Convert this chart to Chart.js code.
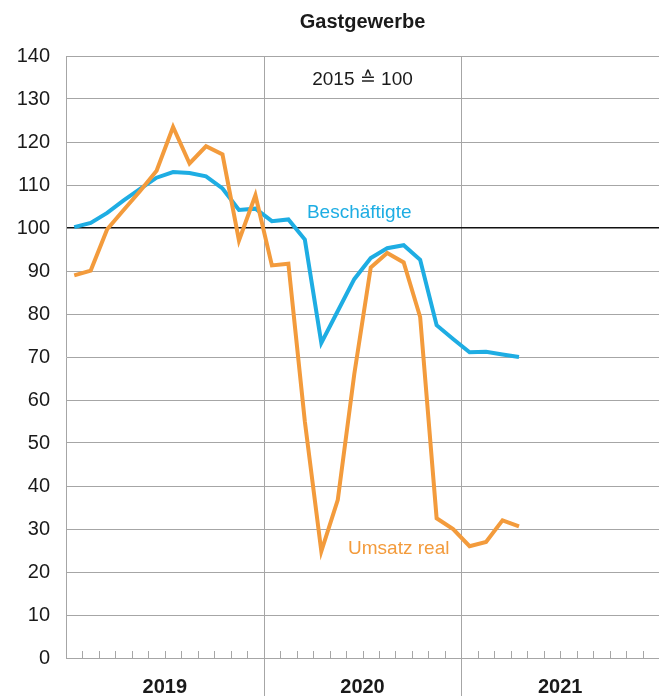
<!DOCTYPE html>
<html>
<head>
<meta charset="utf-8">
<script src="https://cdn.jsdelivr.net/npm/chart.js@4.4.1/dist/chart.umd.min.js"></script>
<style>
  html, body { margin: 0; padding: 0; background: #fff; }
  #wrap { position: relative; width: 668px; height: 696px; }
</style>
</head>
<body>
<div id="wrap"><canvas id="chart"></canvas></div>
<script>
// Gastgewerbe, Jan 2019 - Apr 2021, 2015 = 100
const years = ['2019', '2020', '2021'];
const beschaeftigte = [100.2, 101.2, 103.5, 106.4, 109.1, 111.7, 113.0, 112.8, 112.0, 109.2, 104.2, 104.5,
  101.6, 102.0, 97.3, 73.3, 80.7, 88.1, 93.0, 95.3, 96.0, 92.6, 77.4, 74.2,
  71.1, 71.2, 70.6, 70.0];
const umsatzReal = [89.0, 90.1, 99.7, 104.2, 108.6, 113.3, 123.5, 115.0, 119.0, 117.1, 97.1, 107.6,
  91.3, 91.7, 55.0, 24.8, 36.8, 66.0, 90.8, 94.2, 92.0, 79.3, 32.5, 30.0,
  26.0, 27.0, 32.0, 30.6];
const yMin = 0, yMax = 140, yStep = 10;

const BLUE = '#1eade3';
const ORANGE = '#f39b3c';
const GRID = '#a6a6a6';
const FONT = "'Liberation Sans', Arial, Helvetica, sans-serif";
const monthsTotal = years.length * 12;

// each month sits in the middle of its slot
const toPoints = arr => arr.map((v, i) => ({ x: i + 0.5, y: v }));

const frame = {
  id: 'frame',
  beforeDraw(chart) {
    const { ctx, chartArea, scales: { x, y } } = chart;
    ctx.save();
    ctx.strokeStyle = GRID;
    ctx.lineWidth = 1;
    // year separators, running down through the label row
    for (let k = 1; k < years.length; k++) {
      const px = Math.round(x.getPixelForValue(k * 12)) + 0.5;
      ctx.beginPath();
      ctx.moveTo(px, chartArea.top);
      ctx.lineTo(px, chart.height);
      ctx.stroke();
    }
    // small month marks pointing up from the base line
    const base = y.getPixelForValue(0);
    for (let m = 1; m < monthsTotal; m++) {
      if (m % 12 === 0) continue;
      const px = Math.round(x.getPixelForValue(m)) + 0.5;
      ctx.beginPath();
      ctx.moveTo(px, base);
      ctx.lineTo(px, base - 7);
      ctx.stroke();
    }
    ctx.restore();
  },
  afterDraw(chart) {
    const { ctx, chartArea, scales: { x, y } } = chart;
    const cx = (chartArea.left + chartArea.right) / 2;
    ctx.save();
    ctx.textAlign = 'center';
    ctx.textBaseline = 'middle';
    ctx.fillStyle = '#1a1a1a';
    ctx.font = 'bold 20px ' + FONT;
    ctx.fillText('Gastgewerbe', cx, 22);
    ctx.font = '19px ' + FONT;
    ctx.fillText('2015 \u2259 100', x.getPixelForValue(18), y.getPixelForValue(134.5));
    ctx.fillStyle = BLUE;
    ctx.fillText('Besch\u00e4ftigte', x.getPixelForValue(17.8), y.getPixelForValue(103.5));
    ctx.fillStyle = ORANGE;
    ctx.fillText('Umsatz real', x.getPixelForValue(20.2), y.getPixelForValue(25.5));
    ctx.restore();
  }
};

new Chart(document.getElementById('chart'), {
  type: 'line',
  data: {
    datasets: [
      {
        label: 'Umsatz real',
        data: toPoints(umsatzReal),
        borderColor: ORANGE,
        backgroundColor: ORANGE,
        borderWidth: 4,
        pointRadius: 0,
        tension: 0,
        fill: false,
      },
      {
        label: 'Beschäftigte',
        data: toPoints(beschaeftigte),
        borderColor: BLUE,
        backgroundColor: BLUE,
        borderWidth: 4,
        pointRadius: 0,
        tension: 0,
        fill: false,
      },
    ],
  },
  options: {
    responsive: true,
    maintainAspectRatio: false,
    animation: false,
    layout: { padding: { left: 0, right: 6, top: 56, bottom: 0 } },
    plugins: {
      legend: { display: false },
      tooltip: { enabled: false },
      title: { display: false },
    },
    scales: {
      x: {
        type: 'linear',
        min: 0,
        max: monthsTotal,
        grid: { display: false },
        border: { display: false },
        ticks: {
          stepSize: 6,
          autoSkip: false,
          maxRotation: 0,
          padding: 9,
          color: '#1a1a1a',
          font: { family: FONT, size: 20, weight: 'bold' },
          callback: v => (v % 12 === 6 ? years[(v - 6) / 12] : ''),
        },
        afterFit: s => { s.height = 38; },
      },
      y: {
        min: yMin,
        max: yMax,
        grid: {
          drawTicks: false,
          color: c => (c.tick.value === 100 ? '#111' : GRID),
          lineWidth: c => (c.tick.value === 100 ? 1.6 : 1),
        },
        border: { color: GRID, width: 1 },
        ticks: {
          stepSize: yStep,
          padding: 16,
          color: '#1a1a1a',
          font: { family: FONT, size: 20 },
        },
        afterFit: s => { s.width = 66; },
      },
    },
  },
  plugins: [frame],
});
</script>
</body>
</html>
